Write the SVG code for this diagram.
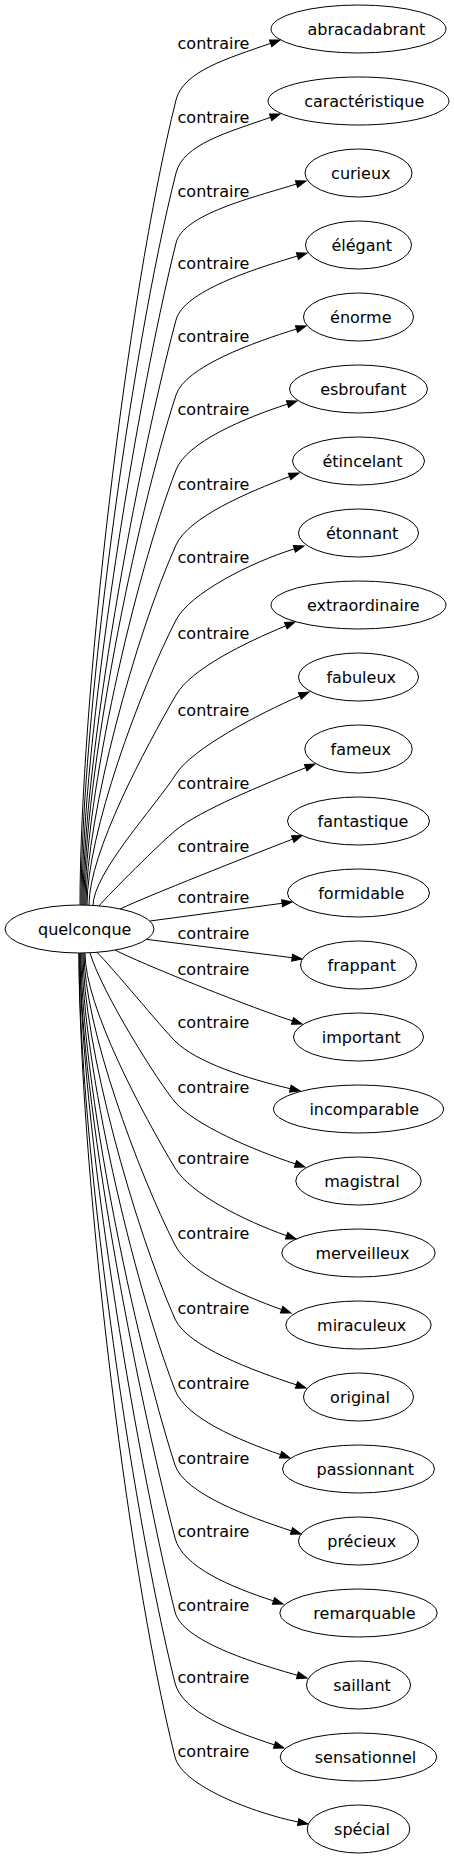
<svg xmlns="http://www.w3.org/2000/svg" width="454" height="1859" viewBox="0 0 454 1859">
<style>
.n ellipse{fill:none;stroke:#000;stroke-width:1}
text{font-family:"DejaVu Sans",sans-serif;font-size:16px;fill:#000;text-anchor:middle}
.e path{fill:none;stroke:#000;stroke-width:1;marker-end:url(#ah)}
</style>
<defs>
<marker id="ah" markerUnits="userSpaceOnUse" markerWidth="12" markerHeight="9" viewBox="0 -4.5 12 9" refX="0" refY="0" orient="auto" overflow="visible">
<path d="M0,-3.5 L10,0 L0,3.5 Z" fill="#000" stroke="#000" stroke-width="1"/>
</marker>
</defs>
<rect width="454" height="1859" fill="#fff"/>
<g id="edges" class="e">
<path d="M80,905 C80,704 126,301 176,100 C183.3,70.9 228.2,58.3 270.6,43.3"/>
<path d="M81,905 C81,722 130,356 176,173 C183.3,144 228.2,132.3 270.6,117.3"/>
<path d="M82,905 C82,740 135,409 176,243 C183.3,214 253.6,197.4 296.5,184"/>
<path d="M83,905 C83,759 137,466 176,320 C183.6,291 254.4,269 297.4,256"/>
<path d="M84,905 C84,777.5 134.6,522.5 176,395 C185.3,366.5 253.6,342.4 296.5,329"/>
<path d="M85,905 C85,796 133.9,578.75 176,470 C186.8,442 244.7,418 287.5,404.1"/>
<path d="M86,905 C86,815 135.5,635 176,545 C188.3,517.6 247.5,492.3 289.6,476.5"/>
<path d="M87,905 C87,833.75 139.5,691.25 176,620 C189.7,593.3 251.4,562.1 294.4,548.9"/>
<path d="M89,905 C89,852.5 145.8,747.5 176,695 C191,669 244.3,643.1 285.8,625.8"/>
<path d="M93,906 C93,873 155,807 176,774 C192.2,748.7 258.5,714 299.8,696"/>
<path d="M99,906 C109,894 160.6,842.7 176,830 C199.1,810.9 263.9,784.2 305.7,767.7"/>
<path d="M120,909 C150,895 246,857.2 292.7,839.1"/>
<path d="M150,921 L282.1,903.3"/>
<path d="M146.7,939.4 L292.1,957.7"/>
<path d="M115,950 C140,963 245,1005.4 292.5,1020.9"/>
<path d="M96.7,952 C112,967 161,1027 175,1041 C196.2,1062.2 246.5,1078.5 290.3,1088.7"/>
<path d="M90,953 C102,993 158.8,1083 175,1102 C194.5,1124.8 252.8,1150 295.5,1163.9"/>
<path d="M85,953 C85,1007 142.75,1114.25 175,1168 C190.4,1193.7 244.2,1220.7 286.6,1235.7"/>
<path d="M84,953 C84,1026 138,1172 175,1245 C188.6,1271.8 239.3,1294.3 281.6,1309.6"/>
<path d="M83,953 C83,1044.5 134.3,1227.5 175,1319 C187.2,1346.4 253.75,1370.9 296.5,1384.9"/>
<path d="M82,953 C82,1062 132.8,1280.75 175,1390 C185.8,1418 238.3,1439.9 280.6,1454.7"/>
<path d="M81,953 C81,1081 133.7,1337 175,1465 C184.2,1493.5 248.75,1516.9 291.5,1530.9"/>
<path d="M80,953 C80,1099 136.6,1391.75 175,1538 C182.6,1567 230.75,1587 273.5,1600.9"/>
<path d="M80,953 C80,1118 133.8,1447 175,1612 C182.3,1641 254.2,1663 297.4,1675.3"/>
<path d="M79,953 C79,1135.5 129.4,1500.5 175,1683 C182.3,1712 231.75,1731 274.5,1744.9"/>
<path d="M79,953 C79,1154 124.75,1556 175,1757 C182.3,1786 254.1,1813 298.2,1822"/>
<text x="213.5" y="49">contraire</text>
<text x="213.5" y="123">contraire</text>
<text x="213.5" y="197">contraire</text>
<text x="213.5" y="269">contraire</text>
<text x="213.5" y="342">contraire</text>
<text x="213.5" y="415">contraire</text>
<text x="213.5" y="490">contraire</text>
<text x="213.5" y="563">contraire</text>
<text x="213.5" y="639">contraire</text>
<text x="213.5" y="716">contraire</text>
<text x="213.5" y="789">contraire</text>
<text x="213.5" y="852">contraire</text>
<text x="213.5" y="903">contraire</text>
<text x="213.5" y="939">contraire</text>
<text x="213.5" y="975">contraire</text>
<text x="213.5" y="1028">contraire</text>
<text x="213.5" y="1093">contraire</text>
<text x="213.5" y="1164">contraire</text>
<text x="213.5" y="1239">contraire</text>
<text x="213.5" y="1314">contraire</text>
<text x="213.5" y="1389">contraire</text>
<text x="213.5" y="1464">contraire</text>
<text x="213.5" y="1537">contraire</text>
<text x="213.5" y="1611">contraire</text>
<text x="213.5" y="1683">contraire</text>
<text x="213.5" y="1757">contraire</text>
</g>
<g id="quelconque" class="n"><ellipse cx="79.5" cy="929" rx="74.5" ry="24"/><text x="84.7" y="934.5">quelconque</text></g>
<g id="abracadabrant" class="n"><ellipse cx="358.5" cy="29" rx="87.5" ry="24"/><text x="366.4" y="35">abracadabrant</text></g>
<g id="caracteristique" class="n"><ellipse cx="358.5" cy="101" rx="90.5" ry="24"/><text x="364.2" y="107">caractéristique</text></g>
<g id="curieux" class="n"><ellipse cx="358.5" cy="173" rx="53.5" ry="24"/><text x="360.8" y="179">curieux</text></g>
<g id="elegant" class="n"><ellipse cx="358.5" cy="245" rx="53" ry="24"/><text x="361.7" y="251">élégant</text></g>
<g id="enorme" class="n"><ellipse cx="358.5" cy="317" rx="55" ry="24"/><text x="360.8" y="323">énorme</text></g>
<g id="esbroufant" class="n"><ellipse cx="358.5" cy="389" rx="69" ry="24"/><text x="363.3" y="395">esbroufant</text></g>
<g id="etincelant" class="n"><ellipse cx="358.5" cy="461" rx="66" ry="24"/><text x="362.5" y="467">étincelant</text></g>
<g id="etonnant" class="n"><ellipse cx="358.5" cy="533" rx="60" ry="24"/><text x="362.2" y="539">étonnant</text></g>
<g id="extraordinaire" class="n"><ellipse cx="358.5" cy="605" rx="87.5" ry="24"/><text x="363.3" y="611">extraordinaire</text></g>
<g id="fabuleux" class="n"><ellipse cx="358.5" cy="677" rx="60" ry="24"/><text x="361.2" y="683">fabuleux</text></g>
<g id="fameux" class="n"><ellipse cx="358.5" cy="749" rx="53.7" ry="24"/><text x="360.8" y="755">fameux</text></g>
<g id="fantastique" class="n"><ellipse cx="358.5" cy="821" rx="71" ry="24"/><text x="363" y="827">fantastique</text></g>
<g id="formidable" class="n"><ellipse cx="358.5" cy="893" rx="71" ry="24"/><text x="361.3" y="899">formidable</text></g>
<g id="frappant" class="n"><ellipse cx="358.5" cy="965" rx="58" ry="24"/><text x="361.8" y="971">frappant</text></g>
<g id="important" class="n"><ellipse cx="358.5" cy="1037" rx="65" ry="24"/><text x="361.3" y="1043">important</text></g>
<g id="incomparable" class="n"><ellipse cx="358.5" cy="1109" rx="85" ry="24"/><text x="364.2" y="1115">incomparable</text></g>
<g id="magistral" class="n"><ellipse cx="358.5" cy="1181" rx="62.7" ry="24"/><text x="362" y="1187">magistral</text></g>
<g id="merveilleux" class="n"><ellipse cx="358.5" cy="1253" rx="76.7" ry="24"/><text x="362.5" y="1259">merveilleux</text></g>
<g id="miraculeux" class="n"><ellipse cx="358.5" cy="1325" rx="72.7" ry="24"/><text x="361.7" y="1331">miraculeux</text></g>
<g id="original" class="n"><ellipse cx="358.5" cy="1397" rx="55" ry="24"/><text x="360" y="1403">original</text></g>
<g id="passionnant" class="n"><ellipse cx="358.5" cy="1469" rx="76" ry="24"/><text x="365.3" y="1475">passionnant</text></g>
<g id="precieux" class="n"><ellipse cx="358.5" cy="1541" rx="60" ry="24"/><text x="361.7" y="1547">précieux</text></g>
<g id="remarquable" class="n"><ellipse cx="358.5" cy="1613" rx="78.7" ry="24"/><text x="364.5" y="1619">remarquable</text></g>
<g id="saillant" class="n"><ellipse cx="358.5" cy="1685" rx="52" ry="24"/><text x="362" y="1691">saillant</text></g>
<g id="sensationnel" class="n"><ellipse cx="358.5" cy="1757" rx="78.3" ry="24"/><text x="365.5" y="1763">sensationnel</text></g>
<g id="special" class="n"><ellipse cx="358.5" cy="1829" rx="51.3" ry="24"/><text x="362" y="1835">spécial</text></g>
</svg>
